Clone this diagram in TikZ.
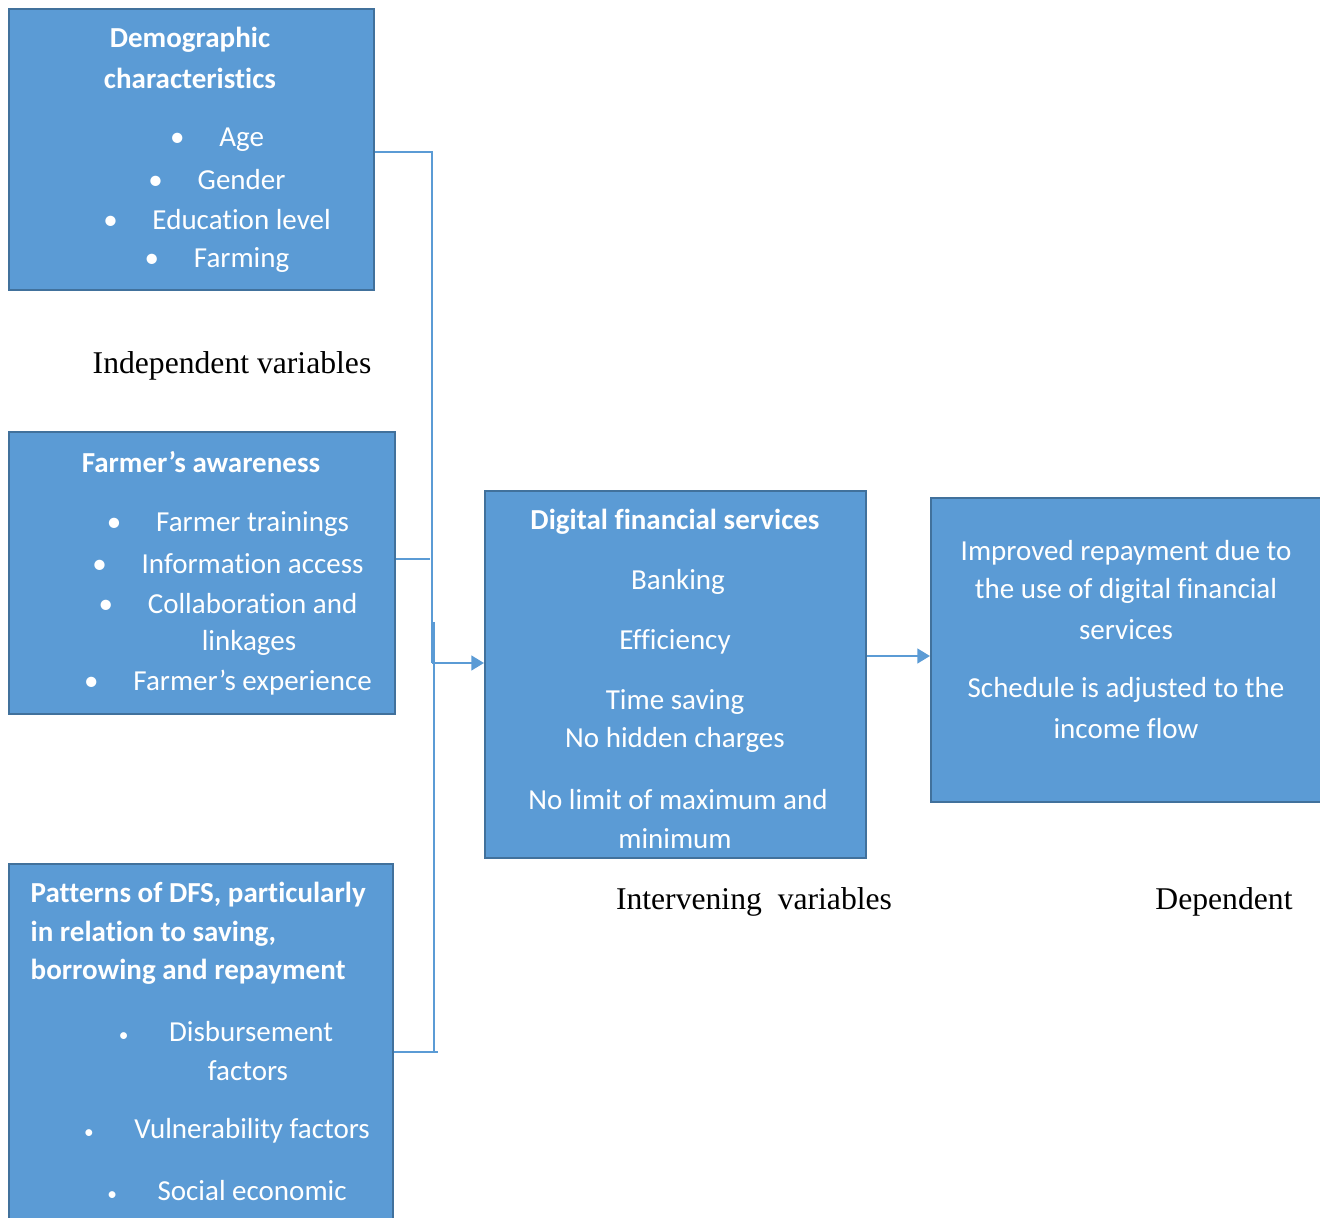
\documentclass[tikz,border=0pt]{standalone}
\usepackage{fontspec}
\setmainfont[Ligatures=NoCommon]{Carlito}
\newfontfamily\timesfont{Liberation Serif}
\usetikzlibrary{arrows.meta}

\definecolor{boxfill}{HTML}{5B9BD5}
\definecolor{boxedge}{HTML}{41719C}

\newcommand\itm[1]{\textbullet\hspace{1.2em}#1}
\newcommand\sitm[1]{{\fontsize{5.5}{6}\selectfont\textbullet}\hspace{1.4em}#1}

\begin{document}
\begin{tikzpicture}[x=0.01cm,y=-0.01cm,
		font=\fontsize{8.25}{11}\selectfont,
		box/.style={draw=boxedge, fill=boxfill, line width=0.6pt, anchor=north west, inner sep=0pt},
		txt/.style={text=white, inner sep=0pt},
		head/.style={txt, font=\fontsize{8.25}{11}\selectfont\bfseries},
		tag/.style={font=\fontsize{9}{11}\selectfont\timesfont, inner sep=0pt},
		link/.style={draw=boxfill, line width=0.6pt},
		thin/.style={draw=boxfill, line width=0.35pt},
		arr/.style={link, -{Triangle[length=3.6pt,width=4.2pt]}},
	]
	\useasboundingbox (0,0) rectangle (1320,1218);
	\clip (0,0) rectangle (1320,1218);

	% boxes
	\node[box, minimum width=3.65cm, minimum height=2.81cm] (demo) at (8,8) {};
	\node[box, minimum width=3.86cm, minimum height=2.82cm] (aware) at (8,431) {};
	\node[box, minimum width=3.84cm, minimum height=3.80cm] (pat) at (8,863) {};
	\node[box, minimum width=3.81cm, minimum height=3.67cm] (dfs) at (484,490) {};
	\node[box, minimum width=4.00cm, minimum height=3.04cm] (imp) at (930,497) {};

	% demographic characteristics
	\node[head] (demo-t1) at (190,40) {Demographic};
	\node[head] (demo-t2) at (190,78) {characteristics};
	\node[txt] (demo-1) at (217,140) {\itm{Age}};
	\node[txt] (demo-2) at (217,180) {\itm{Gender}};
	\node[txt] (demo-3) at (217,220) {\itm{Education level}};
	\node[txt] (demo-4) at (217,260) {\itm{Farming}};

	% farmer's awareness
	\node[head] (aware-t) at (201,462) {Farmer’s awareness};
	\node[txt] (aware-1) at (228,524) {\itm{Farmer trainings}};
	\node[txt] (aware-2) at (228,564) {\itm{Information access}};
	\node[txt] (aware-3) at (228,604) {\itm{Collaboration and}};
	\node[txt] (aware-4) at (249,643) {linkages};
	\node[txt] (aware-5) at (228,683) {\itm{Farmer’s experience}};

	% patterns of DFS
	\node[head, anchor=west] (pat-t1) at (30,895) {Patterns of DFS, particularly};
	\node[head, anchor=west] (pat-t2) at (30,934) {in relation to saving,};
	\node[head, anchor=west] (pat-t3) at (30,972) {borrowing and repayment};
	\node[txt] (pat-1) at (226,1032) {\sitm{Disbursement}};
	\node[txt] (pat-2) at (248,1071) {factors};
	\node[txt] (pat-3) at (227,1131) {\sitm{Vulnerability factors}};
	\node[txt] (pat-4) at (227,1191) {\sitm{Social economic}};

	% digital financial services
	\node[head] (dfs-t) at (675,522) {Digital financial services};
	\node[txt] (dfs-1) at (678,582) {Banking};
	\node[txt] (dfs-2) at (675,642) {Efficiency};
	\node[txt] (dfs-3) at (675,702) {Time saving};
	\node[txt] (dfs-4) at (675,740) {No hidden charges};
	\node[txt] (dfs-5) at (678,800) {No limit of maximum and};
	\node[txt] (dfs-6) at (675,839) {minimum};

	% improved repayment
	\node[txt] (imp-1) at (1126,553) {Improved repayment due to};
	\node[txt] (imp-2) at (1126,591) {the use of digital financial};
	\node[txt] (imp-3) at (1126,630) {services};
	\node[txt] (imp-4) at (1126,690) {Schedule is adjusted to the};
	\node[txt] (imp-5) at (1126,729) {income flow};

	% labels
	\node[tag] (lab-ind) at (232,366) {Independent variables};
	\node[tag] (lab-int) at (754,902) {Intervening\ \ variables};
	\node[tag] (lab-dep) at (1224,902) {Dependent};

	% connectors
	\coordinate (j0) at (432,152);
	\coordinate (j1) at (432,663);
	\coordinate (j2) at (430,559);
	\coordinate (j3t) at (434,622);
	\coordinate (j3b) at (434,1053);
	\coordinate (j4) at (438,1052);
	\coordinate (j5) at (0,656);
	\draw[link] (demo.east |- j0) -- (j0) -- (j1);
	\draw[arr] (j1) -- (j1 -| dfs.west);
	\draw[thin] (aware.east |- j2) -- (j2);
	\draw[thin] (j3t) -- (j3b);
	\draw[thin] (pat.east |- j4) -- (j4);
	\draw[arr] (dfs.east |- j5) -- (imp.west |- j5);
\end{tikzpicture}
\end{document}
